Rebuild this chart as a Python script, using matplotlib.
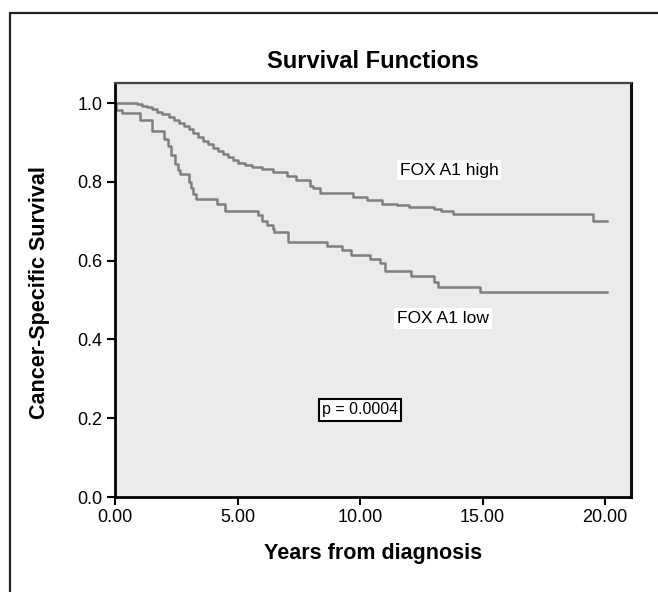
import matplotlib
matplotlib.use('Agg')
import matplotlib.pyplot as plt
from matplotlib.patches import Rectangle

plt.rcParams['font.family'] = ['Liberation Sans', 'DejaVu Sans']

# step points (years, survival)
high_t = [0.0, 0.9, 1.1, 1.3, 1.5, 1.7, 1.9, 2.2, 2.4, 2.6, 2.8, 3.0, 3.2, 3.4, 3.6,
          3.8, 4.0, 4.2, 4.4, 4.6, 4.8, 5.0, 5.3, 5.6, 6.0, 6.45, 7.0, 7.4, 7.95,
          8.1, 8.35, 9.7, 10.3, 10.9, 11.5, 12.0, 13.0, 13.3, 13.8, 19.5, 20.1]
high_s = [1.0, 0.997, 0.993, 0.99, 0.985, 0.978, 0.972, 0.965, 0.958, 0.95, 0.943,
          0.935, 0.925, 0.915, 0.905, 0.895, 0.887, 0.878, 0.87, 0.862, 0.855, 0.848,
          0.842, 0.837, 0.832, 0.824, 0.815, 0.805, 0.79, 0.784, 0.772, 0.762, 0.753,
          0.745, 0.742, 0.737, 0.732, 0.725, 0.718, 0.70, 0.70]

low_t = [0.0, 0.05, 0.3, 1.0, 1.5, 2.0, 2.15, 2.3, 2.45, 2.57, 2.65, 3.0, 3.1, 3.2,
         3.3, 4.15, 4.5, 5.85, 6.0, 6.2, 6.45, 6.5, 7.05, 8.65, 9.25, 9.65, 10.4,
         10.8, 11.0, 12.1, 13.0, 13.2, 14.9, 20.1]
low_s = [1.0, 0.982, 0.975, 0.957, 0.93, 0.91, 0.89, 0.868, 0.845, 0.83, 0.82, 0.80,
         0.785, 0.77, 0.757, 0.745, 0.725, 0.715, 0.70, 0.69, 0.68, 0.672, 0.647,
         0.636, 0.626, 0.615, 0.605, 0.593, 0.575, 0.56, 0.545, 0.532, 0.52, 0.52]

xticks = [0, 5, 10, 15, 20]
yticks = [0.0, 0.2, 0.4, 0.6, 0.8, 1.0]

W, H = 658, 592
fig = plt.figure(figsize=(W / 100, H / 100), dpi=100)
ax = fig.add_axes([115 / W, 1 - 497 / H, (631 - 115) / W, (497 - 83) / H])
ax.set_facecolor('#ebebeb')

ax.step(high_t, high_s, where='post', color='#7f7f7f', lw=1.8)
ax.step(low_t, low_s, where='post', color='#7f7f7f', lw=1.8)

ax.set_xlim(0, 21.06)
ax.set_ylim(0, 1.051)
ax.set_xticks(xticks)
ax.set_xticklabels(['%.2f' % v for v in xticks])
ax.set_yticks(yticks)
ax.set_yticklabels(['%.1f' % v for v in yticks])
ax.tick_params(direction='out', length=6, width=1.5, labelsize=13, pad=3, colors='black')

for side in ['left', 'bottom']:
    ax.spines[side].set_linewidth(2)
    ax.spines[side].set_color('black')
ax.spines['right'].set_linewidth(2.2)
ax.spines['right'].set_color('#111111')
ax.spines['top'].set_linewidth(1.6)
ax.spines['top'].set_color('#444444')

ax.text(13.63, 0.83, 'FOX A1 high', fontsize=12.5, ha='center', va='center',
        bbox=dict(facecolor='white', edgecolor='none', pad=2))
ax.text(13.39, 0.453, 'FOX A1 low', fontsize=12.5, ha='center', va='center',
        bbox=dict(facecolor='white', edgecolor='none', pad=2))
ax.text(10.0, 0.221, 'p = 0.0004', fontsize=11.5, ha='center', va='center',
        bbox=dict(facecolor='white', edgecolor='black', lw=1.5, boxstyle='square,pad=0.2'))

fig.text(373 / W, 1 - 61 / H, 'Survival Functions', fontsize=17, fontweight='bold',
         ha='center', va='center')
fig.text(40 / W, 1 - 293 / H, 'Cancer-Specific Survival', fontsize=15.5, fontweight='bold',
         ha='center', va='center', rotation=90)
fig.text(373 / W, 1 - 553 / H, 'Years from diagnosis', fontsize=15.5, fontweight='bold',
         ha='center', va='center')

# outer frame of the figure panel
fig.add_artist(Rectangle((10 / W, -0.1), 1.2, 1.1 - 13 / H, transform=fig.transFigure,
                         fill=False, edgecolor='#222222', lw=1.6))

fig.savefig('out.png', dpi=100)
